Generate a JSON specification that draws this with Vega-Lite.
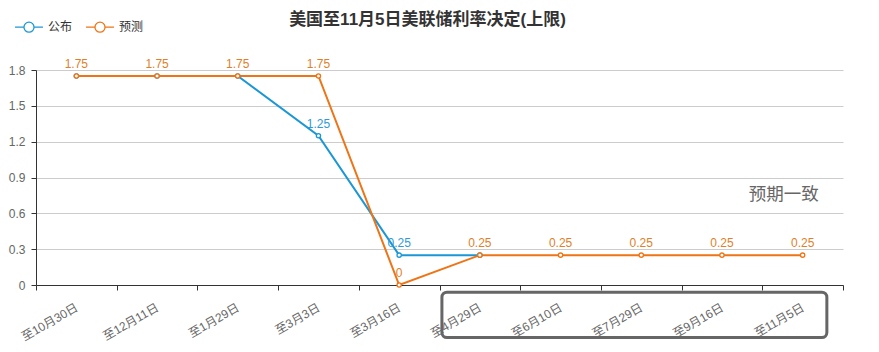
{
  "$schema": "https://vega.github.io/schema/vega-lite/v6.json",
  "width": 807,
  "height": 215,
  "autosize": "none",
  "padding": {"left": 36, "top": 70, "right": 36, "bottom": 67},
  "background": "white",
  "config": {
    "font": "Liberation Sans, Noto Sans CJK SC",
    "view": {"stroke": null},
    "axisX": {
      "title": null,
      "tickBand": "extent",
      "labelAngle": -30,
      "labelAlign": "right",
      "labelBaseline": "middle",
      "labelPadding": 16,
      "labelColor": "#666666",
      "labelFontSize": 12,
      "domainColor": "#333333",
      "tickColor": "#333333",
      "tickSize": 5,
      "grid": false
    },
    "axisY": {
      "title": null,
      "labelOverlap": false,
      "format": "~g",
      "labelColor": "#666666",
      "labelFontSize": 12,
      "labelPadding": 6,
      "domainColor": "#333333",
      "tickColor": "#333333",
      "tickSize": 5,
      "gridColor": "#cccccc"
    }
  },
  "title": {
    "text": "美国至11月5日美联储利率决定(上限)",
    "fontSize": 17,
    "fontWeight": "bold",
    "color": "#333333",
    "anchor": "middle",
    "frame": "group",
    "offset": -17,
    "dx": -12
  },
  "datasets": {
    "rates": [
      {"date": "至10月30日", "series": "公布", "value": 1.75},
      {"date": "至12月11日", "series": "公布", "value": 1.75},
      {"date": "至1月29日", "series": "公布", "value": 1.75},
      {"date": "至3月3日", "series": "公布", "value": 1.25},
      {"date": "至3月16日", "series": "公布", "value": 0.25},
      {"date": "至4月29日", "series": "公布", "value": 0.25},
      {"date": "至10月30日", "series": "预测", "value": 1.75},
      {"date": "至12月11日", "series": "预测", "value": 1.75},
      {"date": "至1月29日", "series": "预测", "value": 1.75},
      {"date": "至3月3日", "series": "预测", "value": 1.75},
      {"date": "至3月16日", "series": "预测", "value": 0},
      {"date": "至4月29日", "series": "预测", "value": 0.25},
      {"date": "至6月10日", "series": "预测", "value": 0.25},
      {"date": "至7月29日", "series": "预测", "value": 0.25},
      {"date": "至9月16日", "series": "预测", "value": 0.25},
      {"date": "至11月5日", "series": "预测", "value": 0.25}
    ],
    "notes": [
      {"note": "预期一致"}
    ]
  },
  "layer": [
    {
      "data": {"name": "rates"},
      "encoding": {
        "x": {
          "field": "date",
          "type": "nominal",
          "sort": null,
          "title": null,
          "scale": {"domain": ["至10月30日", "至12月11日", "至1月29日", "至3月3日", "至3月16日", "至4月29日", "至6月10日", "至7月29日", "至9月16日", "至11月5日"], "paddingInner": 0, "paddingOuter": 0}
        },
        "y": {
          "field": "value",
          "type": "quantitative",
          "title": null,
          "scale": {"domain": [0, 1.8], "nice": false},
          "axis": {"values": [0, 0.3, 0.6, 0.9, 1.2, 1.5, 1.8]}
        },
        "color": {
          "field": "series",
          "type": "nominal",
          "scale": {"domain": ["公布", "预测"], "range": ["#1b97d5", "#ee7416"]},
          "legend": {
            "title": null,
            "orient": "none",
            "legendX": -22,
            "legendY": -58,
            "direction": "horizontal",
            "symbolType": "M-1,0L-0.36,0M0.36,0L1,0M-0.36,0A0.36,0.36 0 1 1 0.36,0A0.36,0.36 0 1 1 -0.36,0Z",
            "symbolSize": 780,
            "symbolFillColor": "white",
            "symbolStrokeWidth": 1.3,
            "labelFontSize": 12,
            "labelOffset": 4,
            "labelColor": "#333333",
            "columnPadding": 10
          }
        }
      },
      "layer": [
        {
          "mark": {"type": "line", "strokeWidth": 2, "point": {"filled": false, "fill": "white", "size": 18, "strokeWidth": 1.3}}
        },
        {
          "transform": [{"filter": "datum.series == '公布' && (datum.date == '至3月3日' || datum.date == '至3月16日')"}],
          "mark": {"type": "text", "dy": -12, "fontSize": 12},
          "encoding": {"text": {"field": "value", "type": "quantitative", "format": ".2~f"}, "color": {"value": "#2f9ad6"}}
        },
        {
          "transform": [{"filter": "datum.series == '预测'"}],
          "mark": {"type": "text", "dy": -12, "fontSize": 12},
          "encoding": {"text": {"field": "value", "type": "quantitative", "format": ".2~f"}, "color": {"value": "#e07f2a"}}
        }
      ]
    },
    {
      "data": {"name": "notes"},
      "mark": {"type": "text", "fontSize": 17.5, "align": "right", "dx": 16},
      "encoding": {
        "x": {"datum": "至11月5日", "title": null},
        "y": {"datum": 0.75, "title": null, "axis": {"values": [0, 0.3, 0.6, 0.9, 1.2, 1.5, 1.8]}},
        "text": {"field": "note", "type": "nominal"},
        "color": {"value": "#666666"}
      }
    },
    {
      "data": {"name": "notes"},
      "mark": {"type": "rect", "fill": null, "stroke": "#666666", "strokeWidth": 3, "cornerRadius": 5, "clip": false},
      "encoding": {
        "x": {"datum": "至4月29日", "bandPosition": 0.03, "title": null},
        "x2": {"datum": "至11月5日", "bandPosition": 0.8},
        "y": {"datum": -0.06, "title": null, "axis": {"values": [0, 0.3, 0.6, 0.9, 1.2, 1.5, 1.8]}},
        "y2": {"datum": -0.44}
      }
    }
  ]
}
